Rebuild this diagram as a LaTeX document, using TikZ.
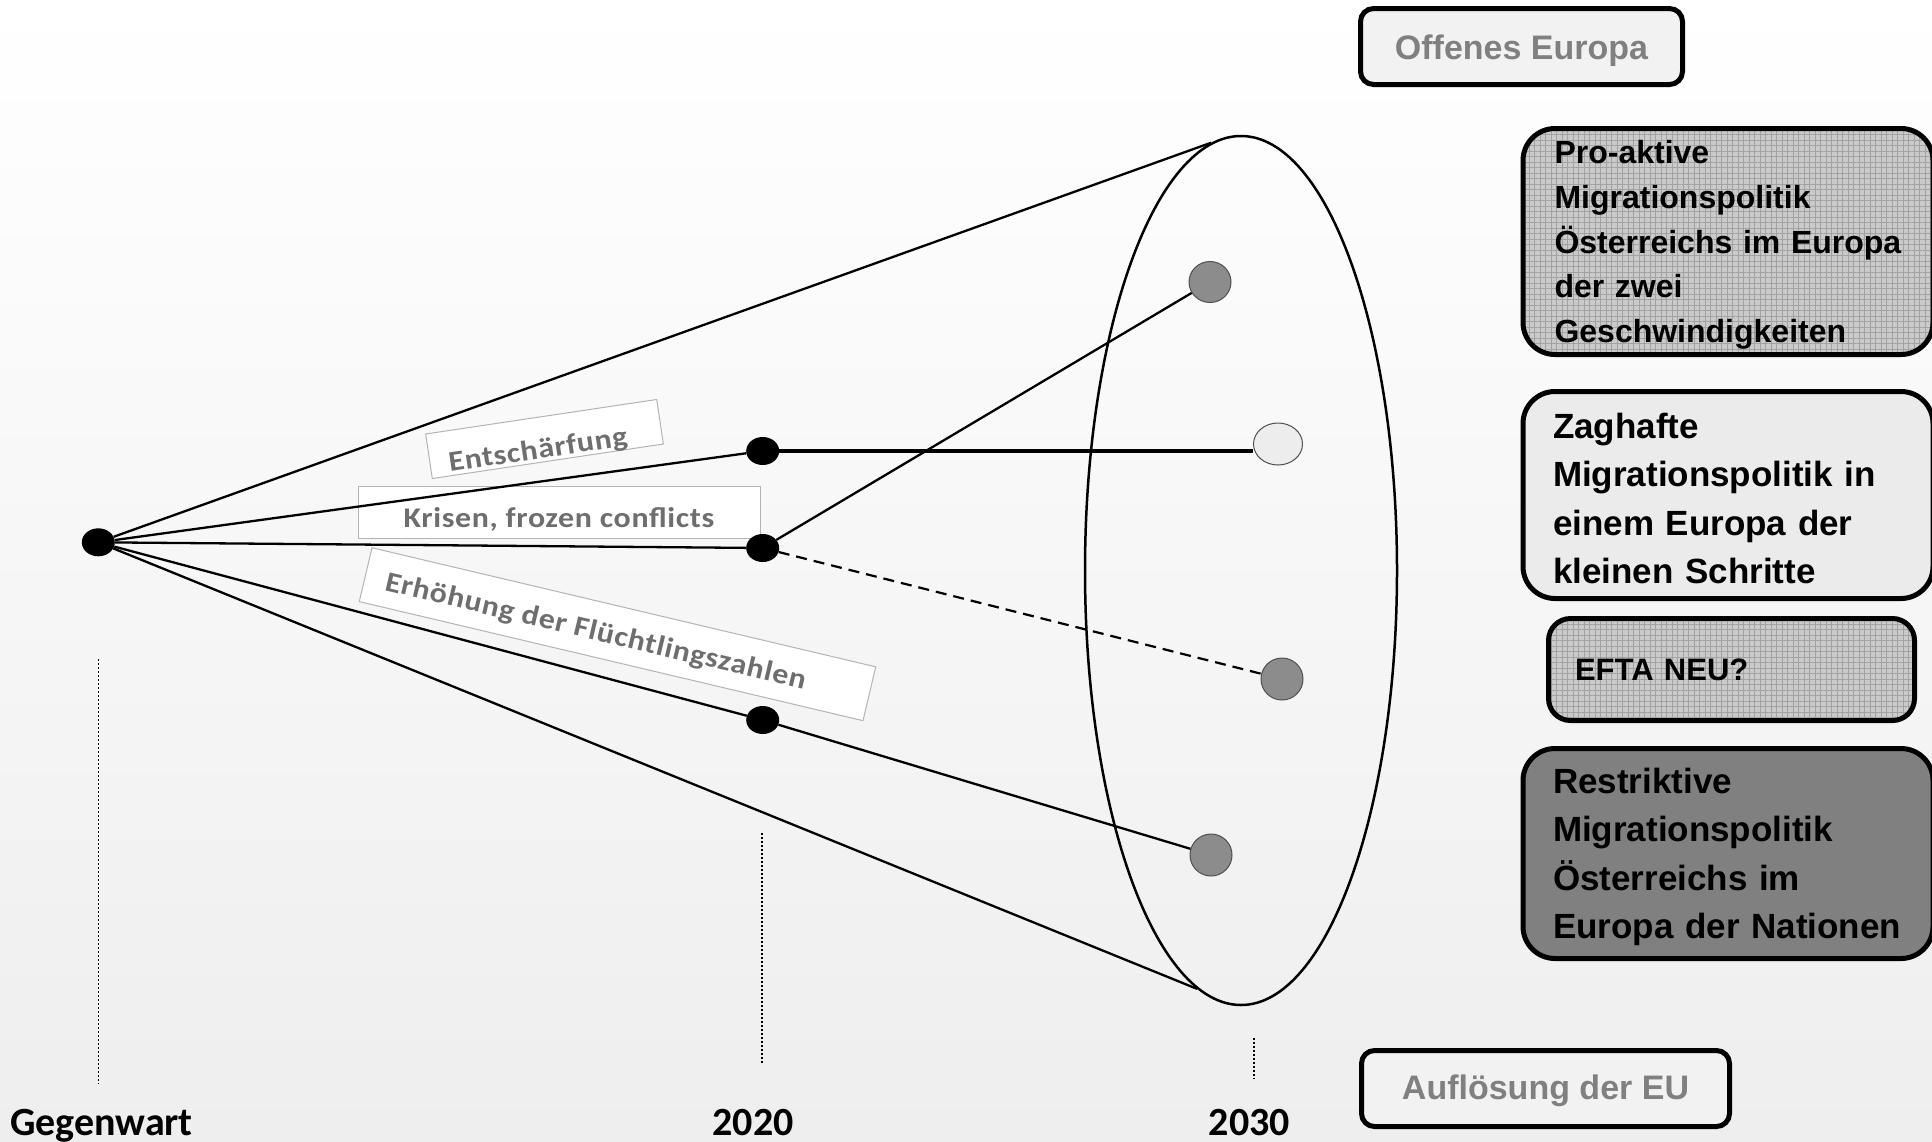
\documentclass[tikz,border=0pt]{standalone}
\usepackage{fontspec}
\newfontfamily\arialf{Liberation Sans}
\newfontfamily\calib{Carlito}
\newfontfamily\calibsp[LetterSpace=2]{Carlito}
\usetikzlibrary{shapes.geometric,patterns.meta,calc}
\definecolor{patbase}{HTML}{CACACA}
\definecolor{patline}{HTML}{A2A2A2}
\definecolor{lightbox}{HTML}{EBEBEB}
\definecolor{palebox}{HTML}{F2F2F2}
\definecolor{darkbox}{HTML}{808080}
\definecolor{graytext}{HTML}{808080}
\definecolor{labeltext}{HTML}{6E6E6E}
\definecolor{labelborder}{HTML}{B4B4B4}
\definecolor{dotgray}{HTML}{8C8C8C}
\definecolor{dotlight}{HTML}{EDEDED}
\definecolor{dotborder}{HTML}{505050}
\definecolor{bgmid}{HTML}{FBFBFB}
\definecolor{bgbottom}{HTML}{EEEEEE}
\begin{document}
\begin{tikzpicture}[x=1pt,y=-1pt,
  scen/.style={draw=black, line width=5pt, inner sep=0pt},
  bigtext/.style={font=\arialf\bfseries\fontsize{35pt}{48.5pt}\selectfont, align=left},
  smalltext/.style={font=\arialf\bfseries\fontsize{32pt}{44.6pt}\selectfont, align=left},
  patfill/.style={preaction={fill=patbase}, pattern={Hatch[distance=5.5pt,line width=0.6pt]}, pattern color=patline},
  lbox/.style={draw=labelborder, line width=1pt, fill=white, inner sep=0pt},
  ltext/.style={font=\calibsp\bfseries\fontsize{28.5pt}{32pt}\selectfont, text=labeltext, inner sep=0pt, anchor=base},
  ytext/.style={font=\calib\bfseries\fontsize{40pt}{48pt}\selectfont, inner sep=0pt},
  bdot/.style={ellipse, fill=black, minimum width=33pt, minimum height=28pt, inner sep=0pt},
  gdot/.style={ellipse, fill=dotgray, draw=dotborder, line width=1pt, minimum width=42pt, minimum height=41pt, inner sep=0pt},
  ldot/.style={ellipse, fill=dotlight, draw=dotborder, line width=1pt, minimum width=49pt, minimum height=42pt, inner sep=0pt},
  conn/.style={line width=2.3pt},
  timeline/.style={line width=1.3pt, dash pattern=on 2pt off 2pt}
]
\useasboundingbox (0,0) rectangle (1932,1141);
\shade[top color=white, middle color=bgmid, bottom color=bgbottom] (0,0) rectangle (1932,1141);

% label boxes
\node[lbox, rotate=8.5, minimum width=233.6pt, minimum height=45pt] (eb) at (544.5,439) {};
\node[ltext, rotate=8.5, xscale=1.12] (et) at (539.2,458.5) {Entschärfung};
\node[lbox, minimum width=402pt, minimum height=51.6pt] (kb) at (559.5,512.5) {};
\node[ltext, xscale=1.12] (kt) at (559,527.7) {Krisen, frozen conflicts};
\node[lbox, rotate=-13.3, minimum width=517.6pt, minimum height=55.3pt] (fb) at (617.5,634.2) {};
\node[ltext, rotate=-13.3, xscale=1.12] (ft) at (593.7,639.8) {Erhöhung der Flüchtlingszahlen};

% cone
\node[ellipse, draw=black, line width=2.5pt, minimum width=312pt, minimum height=869pt, inner sep=0pt] (cone) at (1241,570.5) {};

% dots
\node[bdot] (o) at (98.3,542.3) {};
\node[bdot] (t1) at (762.7,451) {};
\node[bdot] (t2) at (762.7,548) {};
\node[bdot] (t3) at (762.7,720) {};
\node[gdot] (e1) at (1210,282) {};
\node[ldot] (e2) at (1278,444) {};
\node[gdot, minimum height=42pt] (e3) at (1282,679) {};
\node[gdot, minimum height=42pt] (e4) at (1211,855) {};

% connectors
\draw[conn] (o) -- (cone.94);
\draw[conn] (o) -- (cone.264);
\draw[conn] (o) -- (t1);
\draw[conn] (o) -- (t2);
\draw[conn] (o) -- (t3);
\draw[line width=3.5pt] (t1) -- (t1 -| e2.west);
\draw[conn] (t2) -- (e1);
\draw[line width=2.2pt, dash pattern=on 11pt off 7pt] (t2) -- (e3);
\draw[conn] (t3) -- (e4);

% time lines
\coordinate (g1) at (98.5,659);
\coordinate (g2) at (98.5,1084);
\coordinate (h1) at (762,833);
\coordinate (h2) at (762,1063);
\coordinate (k1) at (1254,1038);
\coordinate (k2) at (1254,1079);
\draw[timeline] (g1) -- (g2);
\draw[timeline] (h1) -- (h2);
\draw[timeline] (k1) -- (k2);

\node[ytext, anchor=base west] (gw) at (10,1135) {Gegenwart};
\node[ytext, anchor=base] (y20) at (753,1135) {2020};
\node[ytext, anchor=base] (y30) at (1249.5,1135) {2030};

% scenario boxes
\node[scen, rounded corners=13pt, fill=palebox, minimum width=322pt, minimum height=76pt,
      font=\arialf\bfseries\fontsize{34pt}{40pt}\selectfont, text=graytext] (oe) at (1521.5,46.5) {\rule{0pt}{33pt}Offenes Europa};
\node[scen, rounded corners=32pt, patfill, smalltext, minimum height=226pt, text width=347pt, inner xsep=31.5pt] (pro) at (1728,241.5)
  {\rule{0pt}{30pt}Pro-aktive\\Migrationspolitik\\\mbox{Österreichs im Europa}\\der zwei\\Geschwindigkeiten};
\node[scen, rounded corners=32pt, fill=lightbox, bigtext, minimum height=207pt, text width=350pt, inner xsep=30pt] (zag) at (1728,495)
  {\rule{0pt}{32pt}Zaghafte\\\mbox{Migrationspolitik in}\\\mbox{einem Europa der}\\\mbox{kleinen Schritte}};
\node[scen, rounded corners=22pt, patfill, font=\arialf\bfseries\fontsize{31pt}{36pt}\selectfont, align=left, minimum height=102pt, text width=313pt, inner xsep=26.5pt] (efta) at (1731.5,669.5)
  {EFTA NEU?};
\node[scen, rounded corners=32pt, fill=darkbox, bigtext, minimum height=210pt, text width=350pt, inner xsep=30pt] (res) at (1728,853.5)
  {\rule{0pt}{32pt}Restriktive\\Migrationspolitik\\\mbox{Österreichs im}\\\mbox{Europa der Nationen}};
\node[scen, rounded corners=13pt, fill=palebox, minimum width=368pt, minimum height=76pt,
      font=\arialf\bfseries\fontsize{34pt}{40pt}\selectfont, text=graytext] (auf) at (1545.5,1088.5) {\rule{0pt}{30pt}Auflösung der EU};
\end{tikzpicture}
\end{document}
